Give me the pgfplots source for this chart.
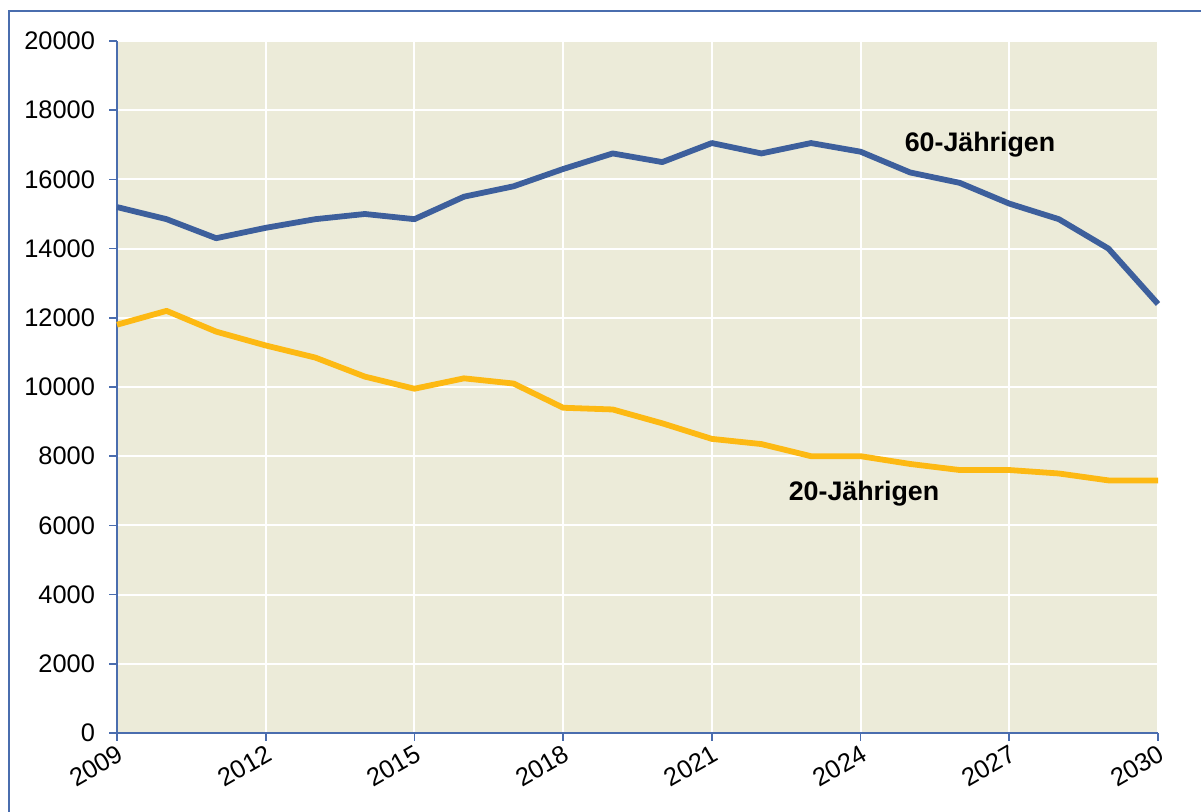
\documentclass[border=0pt]{standalone}
\usepackage{fontspec}
\setmainfont{Liberation Sans}
\usepackage{pgfplots}
\pgfplotsset{compat=1.18}

\definecolor{frameblue}{HTML}{4A6DAE}
\definecolor{line60}{HTML}{3D5F9C}
\definecolor{line20}{HTML}{FDB913}
\definecolor{plotbg}{HTML}{ECEBD9}

\begin{document}
\begin{tikzpicture}
\path[use as bounding box] (0,0) rectangle (600.5pt,406pt);
\draw[frameblue, line width=1pt] (4.5pt,-5pt) -- (4.5pt,400.5pt) -- (610pt,400.5pt);
\begin{axis}[
    at={(58.5pt,39.5pt)}, anchor=south west,
    scale only axis,
    width=520.5pt, height=346pt,
    xmin=2009, xmax=2030, ymin=0, ymax=20000,
    axis x line*=bottom, axis y line*=left,
    axis line style={frameblue, line width=0.8pt},
    axis background/.style={fill=plotbg},
    xtick={2009,2012,...,2030},
    ytick={0,2000,...,20000},
    tick align=outside,
    major tick length=4pt,
    tick style={frameblue, line width=0.8pt},
    grid=major,
    major grid style={white, line width=1pt},
    xticklabel style={rotate=30, anchor=north east, inner sep=1pt, font=\fontsize{12.7}{14}\selectfont},
    yticklabel style={xshift=-3.5pt, font=\fontsize{12.7}{14}\selectfont},
    /pgf/number format/assume math mode=true,
    /pgf/number format/set thousands separator={},
    scaled y ticks=false,
    clip=false,
]
\addplot[line60, line width=2.9pt, line join=round] coordinates {
(2009,15200) (2010,14850) (2011,14300) (2012,14600) (2013,14850) (2014,15000)
(2015,14850) (2016,15500) (2017,15800) (2018,16300) (2019,16750) (2020,16500)
(2021,17050) (2022,16750) (2023,17050) (2024,16800) (2025,16200) (2026,15900)
(2027,15300) (2028,14850) (2029,14000) (2030,12400)
};
\addplot[line20, line width=2.9pt, line join=round] coordinates {
(2009,11800) (2010,12200) (2011,11600) (2012,11200) (2013,10850) (2014,10300)
(2015,9950) (2016,10250) (2017,10100) (2018,9400) (2019,9350) (2020,8950)
(2021,8500) (2022,8350) (2023,8000) (2024,8000) (2025,7775) (2026,7600)
(2027,7600) (2028,7500) (2029,7300) (2030,7300)
};
\node[font=\bfseries\fontsize{13.4}{15}\selectfont] at (axis cs:2026.41,16994) {60-Jährigen};
\node[font=\bfseries\fontsize{13.4}{15}\selectfont] at (axis cs:2024.07,6908) {20-Jährigen};
\end{axis}
\end{tikzpicture}
\end{document}
